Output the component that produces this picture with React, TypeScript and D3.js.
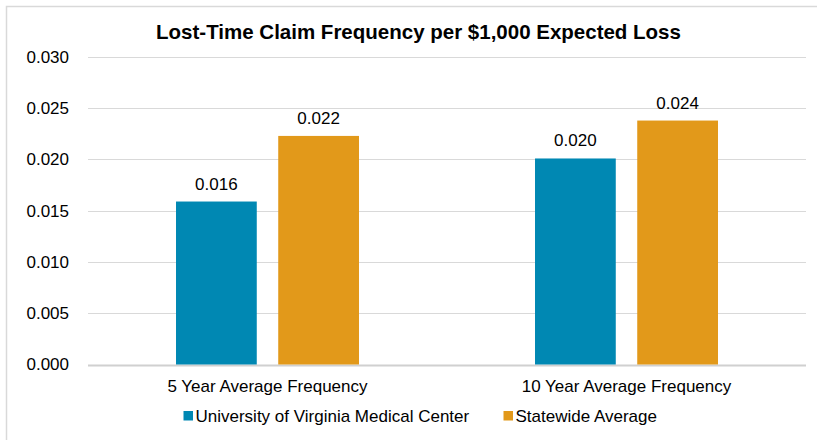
import React from "react";
import * as d3 from "d3";

const categories = ["5 Year Average Frequency", "10 Year Average Frequency"];
const seriesNames = ["University of Virginia Medical Center", "Statewide Average"];
const uvaValues = [0.0159, 0.0201];
const statewideValues = [0.0223, 0.0238];
const yTicks = [0, 0.005, 0.01, 0.015, 0.02, 0.025, 0.03];
const colors = ["#0088B3", "#E2991A"];

const W = 817;
const H = 440;
const FONT = "'Liberation Sans', Arial, sans-serif";

export default function App() {
  const series = [uvaValues, statewideValues];
  const x = d3.scaleBand<string>().domain(categories).range([88, 806]).paddingInner(0).paddingOuter(0);
  const xs = d3
    .scaleBand<string>()
    .domain(seriesNames)
    .range([0, x.bandwidth()])
    .paddingInner(0.21)
    .paddingOuter(0.861);
  const y = d3.scaleLinear().domain([0, 0.03]).range([364.5, 57]);
  const fmt = d3.format(".3f");

  return (
    <svg
      width={W}
      height={H}
      style={{ position: "absolute", left: 0, top: 0, background: "#fff" }}
      fontFamily={FONT}
    >
      <rect x={6.5} y={6.5} width={840} height={460} fill="#fff" stroke="#d9d9d9" strokeWidth={1.5} />
      <text x={418.5} y={39} textAnchor="middle" fontSize={20.5} fontWeight="bold" fill="#000">
        Lost-Time Claim Frequency per $1,000 Expected Loss
      </text>
      {yTicks.map((t) => (
        <g key={t}>
          <line
            x1={88}
            x2={806}
            y1={Math.round(y(t)) + 0.5}
            y2={Math.round(y(t)) + 0.5}
            stroke={t === 0 ? "#d0d0d0" : "#d9d9d9"}
            strokeWidth={t === 0 ? 2 : 1}
          />
          <text x={69} y={y(t)} dy="0.35em" textAnchor="end" fontSize={17} fill="#000">
            {fmt(t)}
          </text>
        </g>
      ))}
      {categories.map((c, ci) => (
        <g key={c}>
          {series.map((vals, si) => {
            const bx = (x(c) as number) + (xs(seriesNames[si]) as number);
            const v = vals[ci];
            return (
              <g key={si}>
                <rect
                  x={bx}
                  y={y(v)}
                  width={xs.bandwidth()}
                  height={y(0) - y(v)}
                  fill={colors[si]}
                />
                <text
                  x={bx + xs.bandwidth() / 2}
                  y={y(v) - 12}
                  textAnchor="middle"
                  fontSize={17}
                  fill="#000"
                >
                  {fmt(v)}
                </text>
              </g>
            );
          })}
          <text
            x={(x(c) as number) + x.bandwidth() / 2}
            y={392}
            textAnchor="middle"
            fontSize={17}
            fill="#000"
          >
            {c}
          </text>
        </g>
      ))}
      {seriesNames.map((s, i) => {
        const lx = i === 0 ? 183.5 : 503.5;
        return (
          <g key={s}>
            <rect x={lx} y={411} width={9.5} height={9.5} fill={colors[i]} />
            <text x={lx + 12} y={421.5} fontSize={17} fill="#000">
              {s}
            </text>
          </g>
        );
      })}
    </svg>
  );
}
